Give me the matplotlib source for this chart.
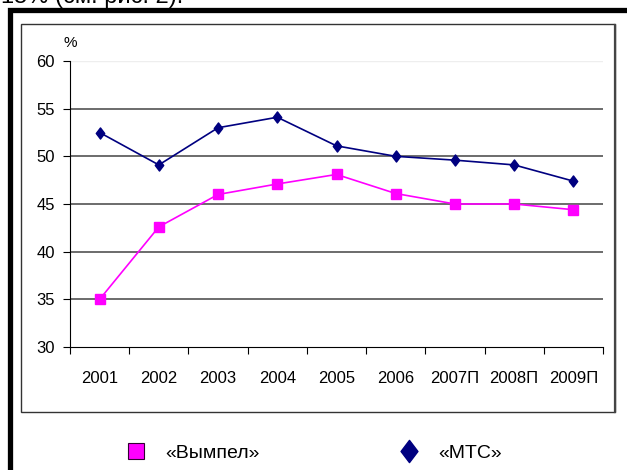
import matplotlib
matplotlib.use("Agg")
from matplotlib import pyplot as plt
from matplotlib.lines import Line2D
from matplotlib.patches import Rectangle
from matplotlib.path import Path
import numpy as np

plt.rcParams['font.family'] = ['Liberation Sans', 'DejaVu Sans']

years = ["2001", "2002", "2003", "2004", "2005", "2006", "2007П", "2008П", "2009П"]
vympel = [35.0, 42.6, 46.0, 47.1, 48.1, 46.1, 45.0, 45.0, 44.4]
mts = [52.5, 49.1, 53.0, 54.1, 51.1, 50.0, 49.6, 49.1, 47.4]
yticks = [30, 35, 40, 45, 50, 55, 60]

navy = "#000080"
magenta = "#ff00ff"
diamond = Path([(0, 1), (0.76, 0), (0, -1), (-0.76, 0), (0, 1)],
               [Path.MOVETO, Path.LINETO, Path.LINETO, Path.LINETO, Path.CLOSEPOLY])

W, H = 627, 470
fig = plt.figure(figsize=(W/100, H/100), dpi=100)
fig.patch.set_facecolor("white")

# cut-off line of text above the frame
fig.text(1/W, 1-3/H, "15% (см. рис. 2).", fontsize=17, va="baseline", ha="left")

# outer thick frame and inner chart box
fig.patches.append(Rectangle((9.5/W, -0.2), 1.2, 1-9.5/H+0.2, transform=fig.transFigure,
                             fill=False, ec="black", lw=3.8))
fig.patches.append(Rectangle((21/W, 1-412/H), (615-21)/W, (412-24)/H, transform=fig.transFigure,
                             fill=False, ec="#333333", lw=1.0))
fig.add_artist(Line2D([615/W, 615/W], [1-412/H, 1-25/H], transform=fig.transFigure,
                      color="#444444", lw=1.6))

ax = fig.add_axes([70/W, 1-347/H, (603-70)/W, (347-61)/H])
x = np.arange(1, len(years)+1)
ax.plot(x, mts, color=navy, lw=1.2, marker=diamond, ms=8, mec=navy, mfc=navy)
ax.plot(x, vympel, color=magenta, lw=1.2, marker="s", ms=6.5, mec=magenta, mfc=magenta)

ax.set_xlim(0.5, len(years)+0.5)
ax.set_ylim(30, 60)
ax.set_yticks(yticks)
ax.set_xticks(np.arange(0.5, len(years)+1))
ax.set_xticklabels([])
ax.set_xticks(x, minor=True)
ax.set_xticklabels(years, minor=True, fontsize=12)
ax.tick_params(axis="x", which="minor", length=0, pad=17)
ax.tick_params(axis="x", which="major", length=5, width=0.8, direction="out")
ax.tick_params(axis="y", length=5, width=0.8, direction="out", labelsize=12, pad=6)

for yv in yticks[1:-1]:
    ax.axhline(yv, color="#444444", lw=1.1, zorder=0)
ax.axhline(60, color="#eeeeee", lw=1.0, zorder=0)

for s in ["top", "right"]:
    ax.spines[s].set_visible(False)
ax.spines["left"].set_linewidth(0.8)
ax.spines["bottom"].set_linewidth(0.8)

fig.text(64/W, 1-43/H, "%", fontsize=11, ha="left", va="center")

handles = [Line2D([], [], ls="", marker="s", ms=12, mfc=magenta, mec="#330033", mew=0.8),
           Line2D([], [], ls="", marker=diamond, ms=16, mfc=navy, mec=navy)]
fig.legend(handles, ["«Вымпел»", "«МТС»"], loc="center left", bbox_to_anchor=(126/W, 1-453/H),
           ncol=2, frameon=False, fontsize=14, handlelength=1.0, handletextpad=1.0,
           columnspacing=7.2, borderpad=0, borderaxespad=0)

fig.savefig("out.png", dpi=100, facecolor="white")
